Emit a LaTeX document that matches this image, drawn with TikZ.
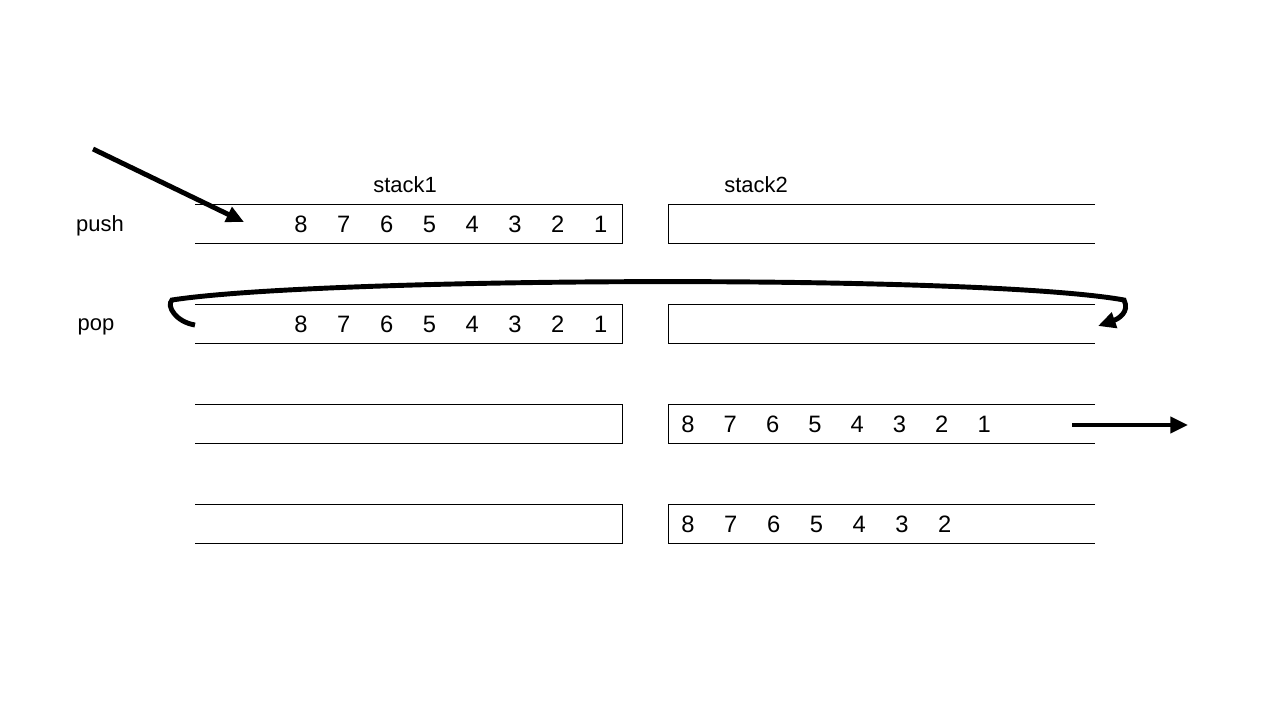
\documentclass[tikz,border=0pt]{standalone}
\usepackage{fontspec}
\setmainfont{Liberation Sans}
\usetikzlibrary{arrows.meta, positioning}

\begin{document}
\begin{tikzpicture}[
    x=0.02cm, y=-0.02cm,
    slot/.style={line width=0.45pt},
    num/.style={font=\fontsize{13.5}{15}\selectfont, inner sep=0pt},
    lbl/.style={font=\fontsize{12.5}{14}\selectfont, inner sep=0pt},
    flow/.style={line width=2.8pt, -{Triangle[length=10pt,width=9pt]}}
]
    \useasboundingbox (0,0) rectangle (1280,720);

    % 两个栈
    \foreach \y in {204,304,404,504} {
        \draw[slot] (195,\y) -- (622,\y) -- (622,\y+39) -- (195,\y+39);
        \draw[slot] (1095,\y) -- (668,\y) -- (668,\y+39) -- (1095,\y+39);
    }

    \node[lbl] (push) at (100,226) {push};
    \node[lbl] (pop) at (96,327) {pop};
    \node[lbl] (stack1) at (405,185) {stack1};
    \node[lbl] (stack2) at (756,185) {stack2};

    % 元素
    \foreach \n [count=\i] in {8,7,6,5,4,3,2,1} {
        \node[num] (a\n) at ({301+(\i-1)*42.8},224) {\n};
        \node[num] (b\n) at ({301+(\i-1)*42.8},324) {\n};
        \node[num] (c\n) at ({688+(\i-1)*42.3},424) {\n};
    }
    \foreach \n [count=\i] in {8,7,6,5,4,3,2} {
        \node[num] (d\n) at ({688+(\i-1)*42.8},524) {\n};
    }

    % 箭头
    \coordinate (inA) at (93,149);
    \coordinate (inB) at (244,222);
    \draw[flow] (inA) -- (inB);

    \coordinate (moveA) at (195,325);
    \coordinate (moveB) at (1098,326);
    \draw[flow] (moveA) .. controls (176,322) and (166,306) .. (172,300)
        .. controls (320,277) and (980,274) .. (1124,300)
        .. controls (1130,312) and (1118,319) .. (moveB);

    \coordinate (outA) at (1072,425);
    \coordinate (outB) at (1188,425);
    \draw[flow] (outA) -- (outB);
\end{tikzpicture}
\end{document}
